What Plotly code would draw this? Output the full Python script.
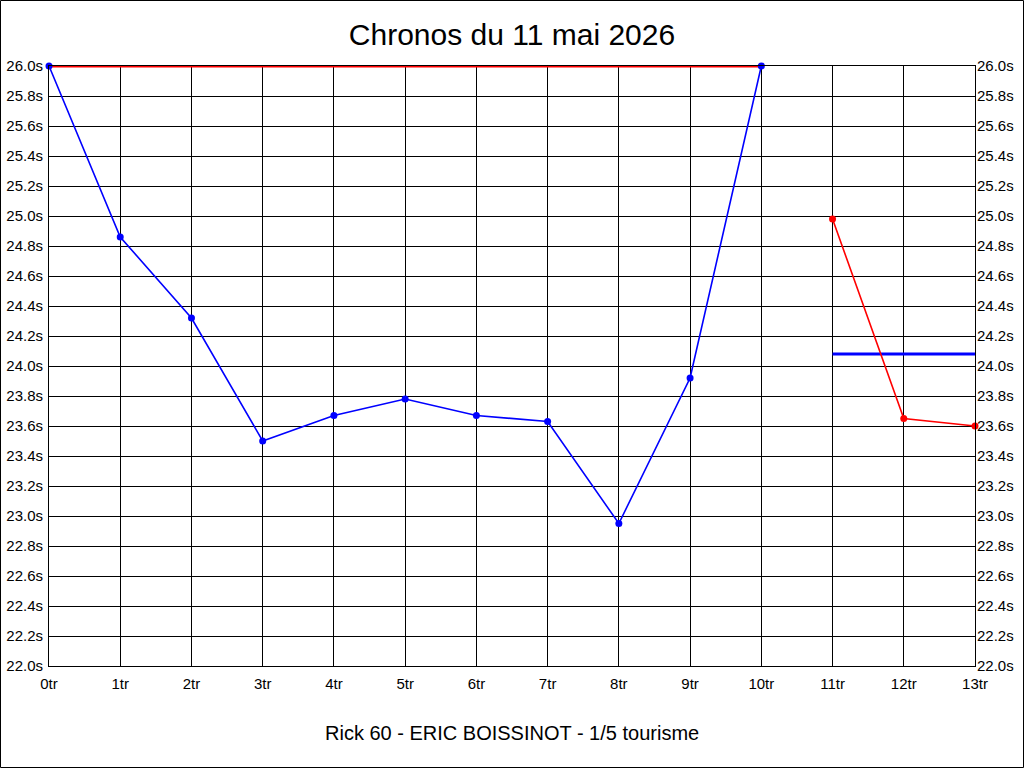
import plotly.graph_objects as go

# ---- data ----
laps_blue = [0, 1, 2, 3, 4, 5, 6, 7, 8, 9, 10]
times_blue = [26.0, 24.86, 24.32, 23.50, 23.67, 23.78, 23.67, 23.63, 22.95, 23.92, 26.0]
laps_red = [11, 12, 13]
times_red = [24.98, 23.65, 23.60]
ref_red_x = [0, 10]
ref_red_y = [26.0, 26.0]
ref_blue_x = [11, 13]
ref_blue_y = [24.08, 24.08]
x_ticks = list(range(0, 14))
x_labels = [f"{i}tr" for i in x_ticks]
y_ticks = [round(22.0 + 0.2 * i, 1) for i in range(21)]
y_labels = [f"{v:.1f}s" for v in y_ticks]

title_text = "Chronos du 11 mai 2026"
subtitle_text = "Rick 60 - ERIC BOISSINOT - 1/5 tourisme"

W, H = 1024, 768
ML, MR, MT, MB = 49, 49, 66, 102
PW, PH = W - ML - MR, H - MT - MB

FONT = "Liberation Sans, Arial, sans-serif"
TICKFONT = dict(family=FONT, size=15, color="black")

fig = go.Figure()
fig.add_trace(go.Scatter(x=ref_red_x, y=ref_red_y, mode="lines",
                         line=dict(color="#ff0000", width=3), cliponaxis=False))
fig.add_trace(go.Scatter(x=ref_blue_x, y=ref_blue_y, mode="lines",
                         line=dict(color="#0000ff", width=3), cliponaxis=False))
fig.add_trace(go.Scatter(x=laps_blue, y=times_blue, mode="lines+markers",
                         line=dict(color="#0000ff", width=1.6),
                         marker=dict(color="#0000ff", size=7), cliponaxis=False))
fig.add_trace(go.Scatter(x=laps_red, y=times_red, mode="lines+markers",
                         line=dict(color="#ff0000", width=1.6),
                         marker=dict(color="#ff0000", size=7), cliponaxis=False))
# invisible trace to anchor right axis
fig.add_trace(go.Scatter(x=[0], y=[22.0], yaxis="y2", mode="markers",
                         marker=dict(opacity=0), hoverinfo="skip"))

fig.update_layout(
    width=W, height=H,
    margin=dict(l=ML, r=MR, t=MT, b=MB, pad=0, autoexpand=False),
    paper_bgcolor="white", plot_bgcolor="white",
    showlegend=False,
    font=dict(family=FONT, color="black", size=15),
    title=dict(text=title_text, x=0.5, xanchor="center", y=1 - 34 / H, yanchor="middle",
               font=dict(family=FONT, size=30, color="black")),
    xaxis=dict(range=[0, 13], tickvals=x_ticks, ticktext=x_labels,
               showgrid=True, gridcolor="black", gridwidth=1,
               showline=True, linecolor="black", linewidth=1, mirror=True,
               zeroline=False, ticks="", ticklen=0, ticklabelstandoff=4,
               automargin=False, tickfont=TICKFONT),
    yaxis=dict(range=[22.0, 26.0], tickvals=y_ticks, ticktext=y_labels,
               showgrid=True, gridcolor="black", gridwidth=1,
               showline=True, linecolor="black", linewidth=1, mirror=True,
               zeroline=False, ticks="", ticklen=0, ticklabelstandoff=2,
               automargin=False, tickfont=TICKFONT),
    yaxis2=dict(range=[22.0, 26.0], tickvals=y_ticks, ticktext=y_labels,
                overlaying="y", side="right", showgrid=False, zeroline=False,
                showline=False, ticks="", ticklen=0, ticklabelstandoff=1,
                automargin=False, tickfont=TICKFONT),
    annotations=[dict(text=subtitle_text, xref="paper", yref="paper",
                      x=0.5, y=-(733 - MT - PH) / PH, xanchor="center", yanchor="middle",
                      showarrow=False, font=dict(family=FONT, size=20, color="black"))],
    shapes=[dict(type="rect", xref="paper", yref="paper",
                 x0=-(ML - 0.5) / PW, x1=1 + (MR - 0.5) / PW,
                 y0=-(MB - 0.5) / PH, y1=1 + (MT - 0.5) / PH,
                 line=dict(color="black", width=1), layer="below")],
)

fig.write_html("out.html", config={"displayModeBar": False},
               post_script="document.body.style.margin='0';document.body.style.overflow='hidden';")
